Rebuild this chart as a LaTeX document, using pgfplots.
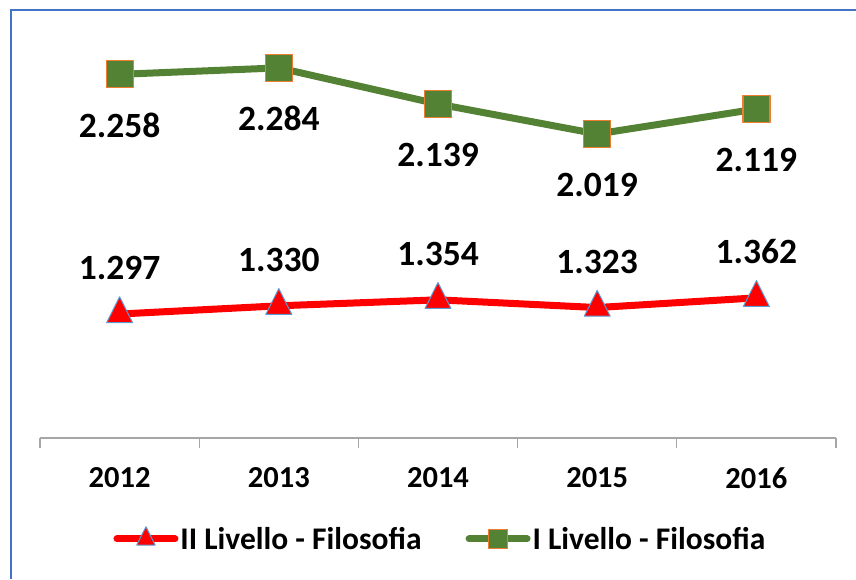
\documentclass[border=0pt]{standalone}
\usepackage{fontspec}
\setmainfont{Carlito}
\usepackage{pgfplots}
\pgfplotsset{compat=1.18}
\definecolor{frameblue}{HTML}{4472C4}
\definecolor{xlred}{HTML}{FF0000}
\definecolor{xlgreen}{HTML}{548235}
\definecolor{xlorange}{HTML}{ED7D31}
\definecolor{triblue}{HTML}{5B9BD5}
\definecolor{axisgray}{HTML}{A6A6A6}

\begin{document}
\begin{tikzpicture}[x=1pt,y=1pt]
\path[use as bounding box] (0,0) rectangle (856,579);
\draw[frameblue, line width=1.5pt] (11,0) -- (11,569) -- (856,569);
\begin{axis}[
  at={(40pt,141pt)}, anchor=south west,
  scale only axis, width=796pt, height=424pt,
  xmin=-0.5, xmax=4.5, ymin=800, ymax=2500,
  axis x line*=bottom, axis y line=none,
  axis line style={axisgray, line width=1.2pt},
  xtick={0,1,2,3,4},
  xticklabels={2012,2013,2014,2015,2016},
  major tick length=0pt,
  extra x ticks={-0.5,0.5,1.5,2.5,3.5,4.5},
  extra x tick labels={},
  extra x tick style={major tick length=10pt, tick align=outside,
    tick style={axisgray, line width=1.2pt}},
  xticklabel style={font=\fontsize{30.5}{36}\selectfont\bfseries, anchor=center, yshift=-40pt},
  clip=false,
  /pgf/number format/assume math mode=true,
  /pgf/number format/1000 sep={.},
  nodes near coords,
  every node near coord/.append style={font=\fontsize{35.5}{40}\selectfont\bfseries, anchor=center, black},
  legend columns=2,
  legend style={draw=none, fill=none, at={(0.503,-0.238)}, anchor=center,
    font=\fontsize{31.5}{36}\selectfont\bfseries,
    /tikz/every even column/.append style={column sep=42pt}},
  legend image code/.code={
    \draw[#1, line cap=round, mark repeat=2, mark phase=2,
      every mark/.append style={scale=0.71}]
      plot coordinates {(0pt,0pt) (29pt,0pt) (58pt,0pt)};},
]
\addplot[xlred, line width=7pt, line join=round,
  mark=triangle*, mark size=15pt,
  mark options={fill=xlred, draw=triblue, line width=1pt, yscale=1.15},
  every node near coord/.append style={yshift=46pt}]
  coordinates {(0,1297) (1,1330) (2,1354) (3,1323) (4,1362)};
\addlegendentry{II Livello - Filosofia}
\addplot[xlgreen, line width=7pt, line join=round,
  mark=square*, mark size=13.5pt,
  mark options={fill=xlgreen, draw=xlorange, line width=1.2pt},
  every node near coord/.append style={yshift=-51pt}]
  coordinates {(0,2258) (1,2284) (2,2139) (3,2019) (4,2119)};
\addlegendentry{I Livello - Filosofia}
\end{axis}
\end{tikzpicture}
\end{document}
